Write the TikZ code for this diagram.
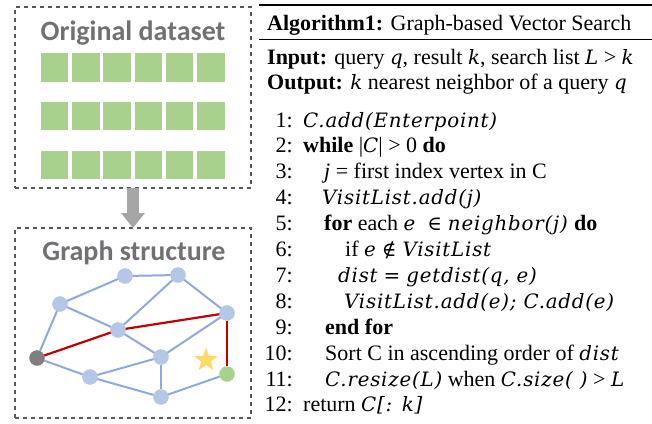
\documentclass[tikz,border=0pt]{standalone}
\usepackage{fontspec}
\setmainfont{Liberation Serif}
\newfontfamily\headfont{Carlito}
\newfontfamily\cmfont{DejaVu Serif}[Scale=0.9, LetterSpace=4]
\usetikzlibrary{shapes.geometric,arrows.meta}

\definecolor{boxgray}{HTML}{595959}
\definecolor{titlegray}{HTML}{707174}
\definecolor{cellgreen}{HTML}{A9D18E}
\definecolor{vblue}{HTML}{B4C7E7}
\definecolor{eblue}{HTML}{8EA9DB}
\definecolor{ered}{HTML}{C00000}
\definecolor{vgray}{HTML}{7F7F7F}
\definecolor{stargold}{HTML}{FFD966}
\definecolor{arrowgray}{HTML}{A6A6A6}

% italic "math" pieces of the pseudo-code
\newcommand\mi[1]{{\cmfont\itshape #1}}
% upright relation symbol with relation spacing
\newcommand\rel[2][6pt]{\hspace*{#1}{\cmfont #2}\hspace*{6pt}}

\tikzset{
  dashbox/.style={draw=boxgray, line width=2pt, dash pattern=on 4pt off 4pt,
                  rectangle, inner sep=0pt, outer sep=0pt},
  boxtitle/.style={font=\headfont\bfseries\fontsize{28}{30}\selectfont,
                   text=titlegray, inner sep=0pt},
  cell/.style={rectangle, fill=cellgreen, minimum width=27.5pt,
               minimum height=28.5pt, inner sep=0pt},
  vert/.style={circle, fill=vblue, draw=eblue!70, line width=0.4pt,
               minimum size=15pt, inner sep=0pt},
  blueedge/.style={draw=eblue, line width=2pt},
  rededge/.style={draw=ered, line width=2.2pt},
  algo/.style={font=\fontsize{22}{25}\selectfont, inner sep=0pt, anchor=base west},
  lnum/.style={algo, anchor=base east},
}

\begin{document}
\begin{tikzpicture}[x=1pt, y=-1pt]
\useasboundingbox (0,0) rectangle (652,423);

% ---- left column: dataset and graph panels
\node[dashbox, minimum width=236pt, minimum height=181pt] (data) at (133,97.5) {};
\node[dashbox, minimum width=236pt, minimum height=190pt] (graph) at (133,323) {};

\node[boxtitle, anchor=base] (t1) at (133,40.7) {Original dataset};
\node[boxtitle, anchor=base] (t2) at (134,260) {Graph structure};

\foreach \r/\yy in {1/67.3, 2/116, 3/165}
  \foreach \c in {1,...,6}
    \node[cell] (cell-\r-\c) at ({54.5+31.25*(\c-1)},\yy) {};

% transition arrow
\draw[arrowgray, line width=12pt, -{Triangle[width=23pt, length=15pt]}]
  (data.south) -- (graph.north);

% graph vertices
\node[vert] (a) at (125,276) {};
\node[vert] (b) at (178,275) {};
\node[vert] (c) at (60,304) {};
\node[vert] (d) at (227,313) {};
\node[vert] (e) at (118,330) {};
\node[vert, fill=vgray, draw=vgray] (f) at (37,358) {};
\node[vert] (g) at (161,357) {};
\node[vert] (h) at (90,377) {};
\node[vert] (i) at (161,397) {};
\node[vert, fill=cellgreen, draw=cellgreen] (j) at (227,374) {};
\node[star, star points=5, star point ratio=2.5, fill=stargold,
      minimum size=25pt, inner sep=0pt] (q) at (206,360) {};

% edges
\foreach \u/\v in {c/a, a/b, b/e, b/d, c/e, c/f, e/g, g/d, f/h, h/g, h/i, g/i, i/j}
  \path[blueedge] (\u) -- (\v);
\foreach \u/\v in {f/e, e/d, d/j}
  \path[rededge] (\u) -- (\v);

% ---- right column: the algorithm
\draw[line width=1.3pt] (259,5) -- (652,5);
\draw[line width=1pt] (259,39.5) -- (652,39.5);

\node[algo] (hd) at (267,30) {\textbf{Algorithm1:} Graph-based Vector Search};
\node[algo] (in) at (267,64) {\textbf{Input:} query \mi{q}, result \mi{k}, search list \mi{L} > \mi{k}};
\node[algo] (out) at (267,89.5) {\textbf{Output:} \mi{k} nearest neighbor of a query \mi{q}};

\node[lnum] (n1) at (293,127) {1:};
\node[algo] (l1) at (303,127) {\mi{C.add(Enterpoint)}};
\node[lnum] (n2) at (293,152.9) {2:};
\node[algo] (l2) at (303,152.9) {\textbf{while} |\mi{C}| > 0 \textbf{do}};
\node[lnum] (n3) at (293,178.8) {3:};
\node[algo] (l3) at (324,178.8) {\textit{j} = first index vertex in C};
\node[lnum] (n4) at (293,204.7) {4:};
\node[algo] (l4) at (322,204.7) {\mi{VisitList.add(j)}};
\node[lnum] (n5) at (293,230.6) {5:};
\node[algo] (l5) at (324,230.6) {\textbf{for} each \mi{e}\rel[12pt]{∈}\mi{neighbor(j)} \textbf{do}};
\node[lnum] (n6) at (293,256.5) {6:};
\node[algo] (l6) at (345,256.5) {if \mi{e}\rel{∉}\mi{VisitList}};
\node[lnum] (n7) at (293,282.4) {7:};
\node[algo] (l7) at (338,282.4) {\mi{dist}\rel{=}\mi{getdist(q, e)}};
\node[lnum] (n8) at (293,308.3) {8:};
\node[algo] (l8) at (344,308.3) {\mi{VisitList.add(e); C.add(e)}};
\node[lnum] (n9) at (293,334.2) {9:};
\node[algo] (l9) at (325,334.2) {\textbf{end for}};
\node[lnum] (n10) at (293,360.1) {10:};
\node[algo] (l10) at (325,360.1) {Sort C in ascending order of \mi{dist}};
\node[lnum] (n11) at (293,386) {11:};
\node[algo] (l11) at (325,386) {\mi{C.resize(L)} when \mi{C.size( )} > \mi{L}};
\node[lnum] (n12) at (293,411.9) {12:};
\node[algo] (l12) at (303,411.9) {return \mi{C[: k]}};
\end{tikzpicture}
\end{document}
